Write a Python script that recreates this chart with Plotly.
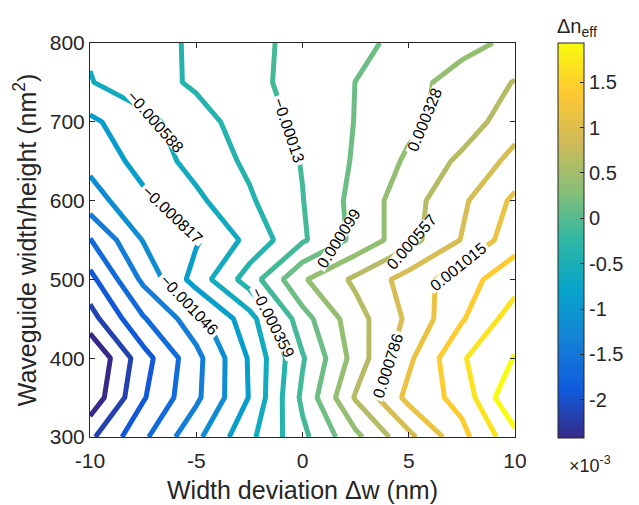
import plotly.graph_objects as go

# Width deviation (nm) and waveguide width/height (nm^2)
width_dev = [-10, -7.5, -5, -2.5, 0, 2.5, 5, 7.5, 10]
wg_size = [300, 350, 400, 450, 500, 550, 600, 650, 700, 750, 800]

# Delta n_eff in units of 1e-3, one row per wg_size value
dn_300 = [-2.008, -1.552, -1.099, -0.645, -0.187, 0.271, 0.724, 1.175, 1.633]
dn_350 = [-2.351, -1.756, -1.321, -0.806, -0.084, 0.580, 1.084, 1.322, 1.931]
dn_400 = [-2.420, -1.825, -1.344, -0.794, -0.153, 0.420, 0.969, 1.450, 1.713]
dn_450 = [-2.054, -1.527, -1.138, -0.680, 0.007, 0.465, 0.832, 1.221, 1.588]
dn_500 = [-1.802, -1.229, -0.720, -0.250, 0.300, 0.603, 0.878, 1.152, 1.381]
dn_550 = [-1.515, -1.035, -0.842, -0.526, -0.160, 0.156, 0.477, 0.797, 1.152]
dn_600 = [-1.149, -0.870, -0.638, -0.389, -0.137, 0.170, 0.465, 0.745, 1.061]
dn_650 = [-0.984, -0.732, -0.506, -0.316, -0.119, 0.126, 0.367, 0.607, 0.855]
dn_700 = [-0.863, -0.659, -0.448, -0.254, -0.073, 0.106, 0.275, 0.429, 0.694]
dn_750 = [-0.599, -0.455, -0.325, -0.192, -0.050, 0.101, 0.259, 0.413, 0.568]
dn_800 = [-0.561, -0.453, -0.322, -0.190, -0.066, 0.049, 0.159, 0.264, 0.374]

cb_tick_vals = [-2, -1.5, -1, -0.5, 0, 0.5, 1, 1.5]
cb_tick_text = ['-2', '-1.5', '-1', '-0.5', '0', '0.5', '1', '1.5']
x_ticks = [-10, -5, 0, 5, 10]
x_tick_text = ['-10', '-5', '0', '5', '10']
y_ticks = [300, 400, 500, 600, 700, 800]
y_tick_text = ['300', '400', '500', '600', '700', '800']

rows = [dn_300, dn_350, dn_400, dn_450, dn_500, dn_550,
        dn_600, dn_650, dn_700, dn_750, dn_800]
z = [[v * 1e-3 for v in r] for r in rows]
zmin = min(min(r) for r in z)
zmax = max(max(r) for r in z)
n_levels = 18
step = (zmax - zmin) / (n_levels + 1)

parula = [[0, '#352a87'], [0.125, '#0f5cdd'], [0.25, '#1481d6'],
          [0.375, '#06a4ca'], [0.5, '#2eb7a4'], [0.625, '#87bf77'],
          [0.75, '#d1bb59'], [0.875, '#fec832'], [1, '#f9fb0e']]

FONT = 'Liberation Sans, Arial, sans-serif'
INK = '#262626'

# page body has an 8px margin; figure is sized so the plot lands in place
W, H = 631, 497
ML, MR, MT, MB = 82, 124, 35, 68
PW, PH = W - ML - MR, H - MT - MB


def px_to_paper(wx, wy):
    fx, fy = wx - 8, wy - 8
    return (fx - ML) / PW, (H - MB - fy) / PH


fig = go.Figure()
fig.add_trace(go.Contour(
    x=width_dev, y=wg_size, z=z,
    colorscale=parula, zmin=zmin, zmax=zmax, zauto=False,
    showscale=False,
    contours=dict(start=zmin + step, end=zmin + n_levels * step + step * 0.01,
                  size=step, coloring='lines', showlabels=True,
                  labelfont=dict(size=16, color='black', family=FONT),
                  labelformat='.4~g'),
    line=dict(width=5, smoothing=0),
    hoverinfo='skip',
))

cbx, cby = px_to_paper(558, 240.5)
fig.add_trace(go.Scatter(
    x=[width_dev[0]], y=[wg_size[0]], mode='markers',
    marker=dict(size=1, opacity=0, color=[zmin], colorscale=parula,
                cmin=zmin, cmax=zmax, showscale=True,
                colorbar=dict(
                    x=cbx, xanchor='left', xpad=0,
                    y=cby, yanchor='middle', ypad=0,
                    len=395, lenmode='pixels',
                    thickness=26, thicknessmode='pixels',
                    outlinewidth=1, outlinecolor=INK,
                    ticks='inside', ticklen=4, tickcolor=INK,
                    tickvals=[v * 1e-3 for v in cb_tick_vals],
                    ticktext=cb_tick_text,
                    tickfont=dict(size=20, color=INK, family=FONT),
                )),
    hoverinfo='skip', showlegend=False,
))

tx, ty = px_to_paper(577, 27)
fig.add_annotation(
    text='Δn<sub>eff</sub>', xref='paper', yref='paper',
    x=tx, y=ty, xanchor='center', yanchor='middle',
    showarrow=False, font=dict(size=20, color=INK, family=FONT))

ex, ey = px_to_paper(590, 464)
fig.add_annotation(
    text='×10<sup>-3</sup>', xref='paper', yref='paper',
    x=ex, y=ey, xanchor='center', yanchor='middle',
    showarrow=False, font=dict(size=18, color=INK, family=FONT))

fig.update_layout(
    width=W, height=H,
    margin=dict(l=ML, r=MR, t=MT, b=MB, autoexpand=False),
    paper_bgcolor='white', plot_bgcolor='white',
    font=dict(family=FONT, color=INK),
    showlegend=False,
    xaxis=dict(range=[-10, 10], tickvals=x_ticks, ticktext=x_tick_text,
               ticks='inside', ticklen=5, ticklabelstandoff=5,
               automargin=False,
               tickcolor=INK, showline=True, linecolor=INK, linewidth=1,
               mirror='ticks', showgrid=False, zeroline=False,
               tickfont=dict(size=21, color=INK, family=FONT),
               title=dict(text='Width deviation Δw (nm)', standoff=10,
                          font=dict(size=25, color=INK, family=FONT))),
    yaxis=dict(range=[300, 800], tickvals=y_ticks, ticktext=y_tick_text,
               ticks='inside', ticklen=5, automargin=False,
               tickcolor=INK, showline=True, linecolor=INK, linewidth=1,
               mirror='ticks', showgrid=False, zeroline=False,
               tickfont=dict(size=21, color=INK, family=FONT),
               title=dict(text='Waveguide width/height (nm<sup>2</sup>)',
                          standoff=6,
                          font=dict(size=25, color=INK, family=FONT))),
)

fig.write_html('out.html')
